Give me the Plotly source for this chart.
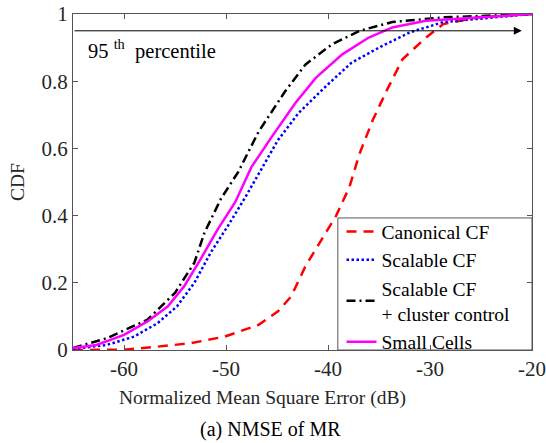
"""CDF of NMSE for MR combining (cell-free vs small cells)."""

import plotly.graph_objects as go

# --- data ---
canonical_x = [-65, -60.0, -56.7, -53.5, -50.1, -46.8, -44.9, -43.6, -42.2, -40.6, -39.2,
               -37.9, -36.9, -35.6, -34.2, -32.7, -30.4, -28.7, -25.3, -20]
canonical_y = [0.0, 0.001, 0.01, 0.02, 0.04, 0.075, 0.115, 0.16, 0.25, 0.33, 0.40,
               0.485, 0.585, 0.685, 0.775, 0.865, 0.93, 0.97, 0.99, 1.0]

scalable_x = [-65, -61.7, -59.0, -56.7, -54.8, -53.1, -51.5, -49.8, -48.1, -46.8, -44.9,
              -42.9, -40.2, -37.7, -35.0, -32.0, -28.7, -23.7, -20]
scalable_y = [0.003, 0.015, 0.04, 0.08, 0.13, 0.20, 0.29, 0.37, 0.455, 0.525, 0.625,
              0.705, 0.785, 0.855, 0.90, 0.945, 0.976, 0.99, 1.0]

cluster_x = [-65, -61.7, -57.7, -55.0, -53.1, -52.1, -50.5, -48.8, -46.8, -44.2, -42.2,
             -39.6, -36.9, -33.7, -28.7, -20]
cluster_y = [0.006, 0.035, 0.09, 0.17, 0.26, 0.35, 0.45, 0.53, 0.65, 0.77, 0.85,
             0.91, 0.95, 0.976, 0.99, 1.0]

small_x = [-65, -62.7, -60.0, -57.7, -55.7, -54.1, -52.5, -50.8, -49.1, -47.5, -45.5,
           -43.2, -41.2, -38.6, -36.0, -33.7, -30.4, -25.3, -20]
small_y = [0.006, 0.015, 0.045, 0.085, 0.13, 0.19, 0.27, 0.36, 0.44, 0.545, 0.635,
           0.735, 0.81, 0.88, 0.93, 0.96, 0.98, 0.99, 1.0]

x_ticks = [-60, -50, -40, -30, -20]
x_tick_labels = ["-60", "-50", "-40", "-30", "-20"]
y_ticks = [0, 0.2, 0.4, 0.6, 0.8, 1]
y_tick_labels = ["0", "0.2", "0.4", "0.6", "0.8", "1"]

percentile_level = 0.95
arrow_end_x = -21

FONT = "Liberation Serif, Times New Roman, serif"
TEXT = "#262626"
AXIS = "#555555"

fig = go.Figure()
fig.add_trace(go.Scatter(x=canonical_x, y=canonical_y, mode="lines", name="Canonical CF",
                         line=dict(color="#ff0000", width=2.5, dash="10px,7px")))
fig.add_trace(go.Scatter(x=scalable_x, y=scalable_y, mode="lines", name="Scalable CF",
                         line=dict(color="#0000ff", width=2.5, dash="2.5px,2.5px")))
fig.add_trace(go.Scatter(x=cluster_x, y=cluster_y, mode="lines",
                         name="Scalable CF<br>+ cluster control",
                         line=dict(color="#000000", width=2.5, dash="9px,4px,2px,4px")))
fig.add_trace(go.Scatter(x=small_x, y=small_y, mode="lines", name="Small Cells",
                         line=dict(color="#ff00ff", width=2.5)))

# legend box
fig.add_shape(type="rect", xref="paper", yref="paper", x0=0.577, x1=1, y0=0, y1=0.393,
              line=dict(color=AXIS, width=1), fillcolor="white", layer="below")

# 95th percentile arrow
fig.add_annotation(x=arrow_end_x, y=percentile_level, ax=-65, ay=percentile_level,
                   xref="x", yref="y", axref="x", ayref="y", text="", showarrow=True,
                   arrowhead=2, arrowsize=1.6, arrowwidth=1, arrowcolor="black")
fig.add_annotation(x=-63.7, y=0.893, xref="x", yref="y", xanchor="left", yanchor="middle",
                   text="95 <sup>th</sup>&nbsp; percentile", showarrow=False,
                   font=dict(family=FONT, size=20.5, color="black"))

# axis label and caption (label sits left of the plot centre in the original)
fig.add_annotation(x=0.412, y=-0.143, xref="paper", yref="paper", yanchor="middle",
                   text="Normalized Mean Square Error (dB)", showarrow=False,
                   font=dict(family=FONT, size=19.5, color=TEXT))
fig.add_annotation(x=0.43, y=-0.238, xref="paper", yref="paper", yanchor="middle",
                   text="(a) NMSE of MR", showarrow=False,
                   font=dict(family=FONT, size=20, color="black"))

axis_common = dict(showline=True, linecolor=AXIS, linewidth=1, mirror="ticks",
                   ticks="inside", ticklen=5, tickcolor=AXIS, showgrid=False,
                   zeroline=False, automargin=False,
                   tickfont=dict(family=FONT, size=21, color=TEXT))
fig.update_xaxes(range=[-65, -20], tickvals=x_ticks, ticktext=x_tick_labels, **axis_common)
fig.update_yaxes(range=[0, 1], tickvals=y_ticks, ticktext=y_tick_labels,
                 title=dict(text="CDF", standoff=11, font=dict(family=FONT, size=19.5, color=TEXT)),
                 **axis_common)

fig.update_layout(
    width=546, height=443, template="plotly_white",
    plot_bgcolor="white", paper_bgcolor="white",
    margin=dict(l=73, r=14, t=14, b=93),
    showlegend=True,
    legend=dict(x=0.585, y=0.41, xanchor="left", yanchor="top",
                bgcolor="rgba(0,0,0,0)", borderwidth=0,
                font=dict(family=FONT, size=19.5, color="black"),
                itemwidth=30, tracegroupgap=0),
)

fig.write_html("out.html", config={"displayModeBar": False},
               post_script="document.body.style.margin='0';")
